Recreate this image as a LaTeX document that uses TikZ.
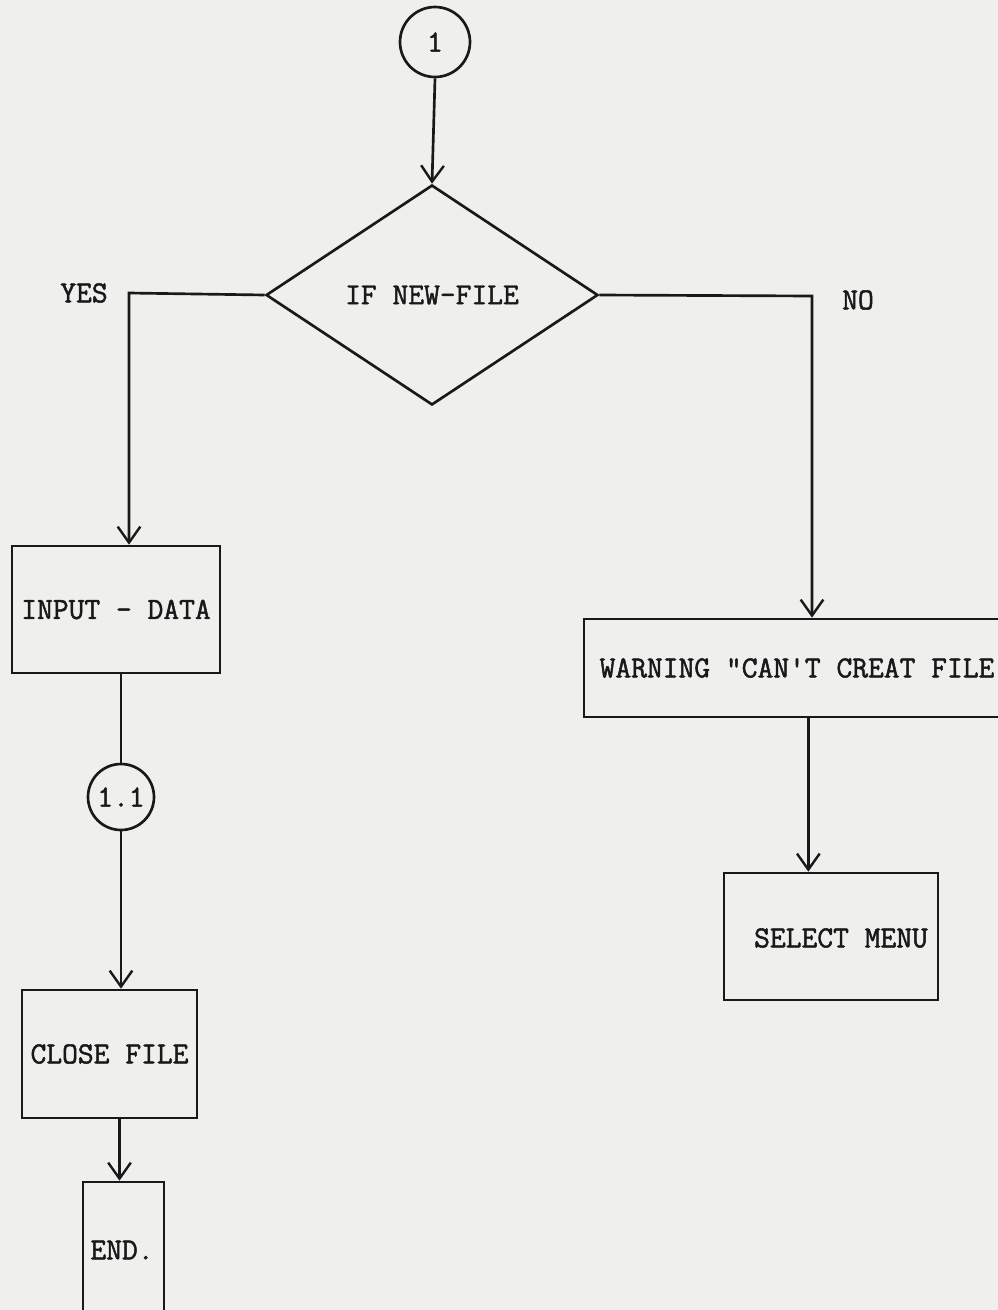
\documentclass[tikz,border=0pt]{standalone}
\usepackage{fontspec}
\newfontfamily\flowfont{Latin Modern Mono}[FakeBold=1.6]
\usetikzlibrary{shapes.geometric,arrows.meta}
\definecolor{paper}{RGB}{239,239,238}
\definecolor{ink}{RGB}{25,25,25}
\begin{document}
\begin{tikzpicture}[x=0.75pt,y=-0.75pt,
  every node/.style={font=\fontsize{23}{27}\selectfont\flowfont\bfseries, text=ink},
  ln/.style={draw=ink, line width=2pt},
  arr/.style={ln, -{Straight Barb[length=12pt,width=17pt,line width=1.8pt]}},
  boxn/.style={draw=ink, line width=2pt, rectangle, inner sep=0pt},
  conn/.style={draw=ink, line width=2pt, circle, inner sep=0pt},
  decision/.style={draw=ink, line width=2pt, diamond, inner sep=0pt},
  lbl/.style={inner sep=0pt}]
\fill[paper] (0,0) rectangle (998,1310);
\useasboundingbox (0,0) rectangle (998,1310);
\begin{scope}
\clip (0,0) rectangle (998,1310);
% nodes
\node[conn, minimum size=52.5pt] (c1) at (435,42) {1};
\node[decision, minimum width=249pt, minimum height=165pt] (dia) at (432,295) {IF NEW-FILE};
\node[lbl] (yes) at (84,293) {YES};
\node[lbl] (no) at (858,300) {NO};
\node[boxn, minimum width=156pt, minimum height=95.25pt] (inp) at (116,609.5) {INPUT - DATA};
\node[conn, minimum size=49.5pt] (c11) at (121,797) {1.1};
\node[boxn, minimum width=131.25pt, minimum height=96pt] (close) at (109.5,1054) {CLOSE FILE};
\node[boxn, minimum width=60.75pt, minimum height=111pt] (endb) at (123.5,1256) {};
\node[lbl] (endt) at (122,1250) {END.};
\node[boxn, minimum width=319.5pt, minimum height=73.5pt] (warn) at (797,668) {WARNING "CAN'T CREAT FILE};
\node[boxn, minimum width=160.5pt, minimum height=95.25pt] (sel) at (831,936.5) {};
\node[lbl] (selt) at (841,938) {SELECT MENU};
% helper coordinates
\coordinate (yc) at (129,293);
\coordinate (nc) at (812,296);
% connectors
\draw[arr] (c1.south) -- (dia.north);
\draw[arr] (dia.west) -- (yc) -- (yc |- inp.north);
\draw[ln] (c11.north |- inp.south) -- (c11.north);
\draw[arr] (c11.south) -- (c11.south |- close.north);
\draw[arr] ([xshift=7.5pt]close.south) -- ([xshift=7.5pt]close.south |- endb.north);
\draw[arr] (dia.east) -- (nc) -- (nc |- warn.north);
\draw[arr] ([xshift=-17pt]sel.north |- warn.south) -- ([xshift=-17pt]sel.north);
\end{scope}
\end{tikzpicture}
\end{document}
